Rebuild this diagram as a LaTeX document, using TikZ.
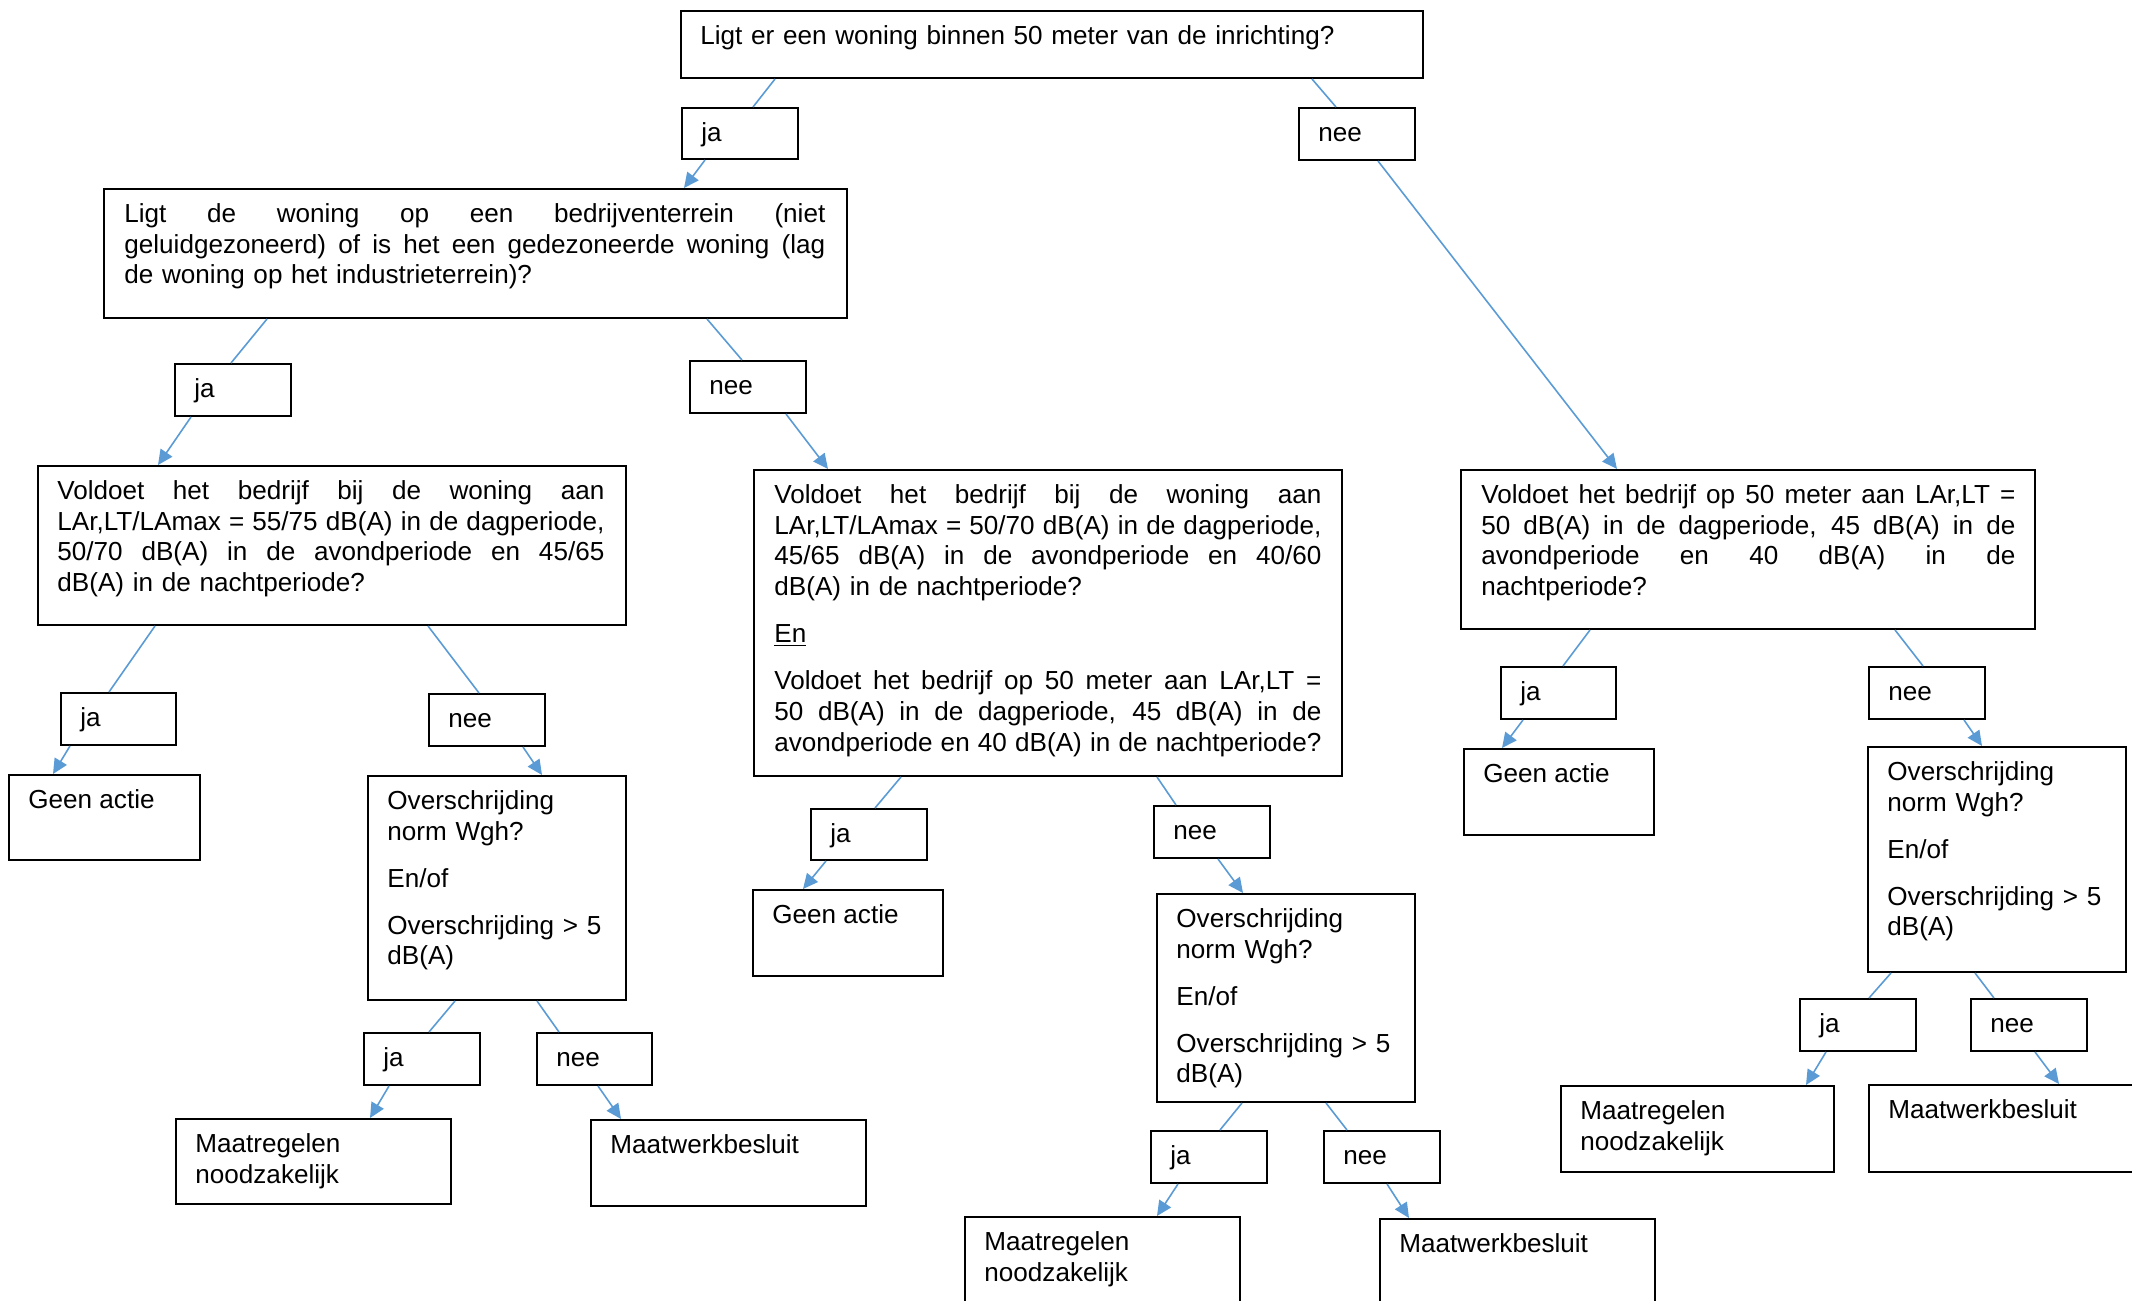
\documentclass[tikz,border=0pt]{standalone}
\usepackage{fontspec}
\setmainfont{Liberation Sans}
\usepackage{tikz}
\usetikzlibrary{calc,arrows.meta}
\setlength{\parindent}{0pt}
\definecolor{cLijn}{HTML}{5B9BD5}
\newcommand{\tekstfont}{\fontsize{13.05}{15.35}\selectfont\hyphenpenalty=10000\relax}
\newcommand{\uitvul}[1]{\hbox to \linewidth{\spaceskip=0.278em plus 1fil minus 0.1em\relax #1}\par}
\newcommand{\alinea}{\par\vspace{8.2pt}}

\begin{document}
\begin{tikzpicture}[x=0.5pt,y=-0.5pt,
  vak/.style={draw=black, line width=1pt, anchor=north west, inner sep=0pt},
  tekst/.style={anchor=north west, inner sep=0pt, font=\tekstfont, execute at begin node=\strut},
  lijn/.style={draw=cLijn, line width=0.8pt},
  pijl/.style={draw=cLijn, line width=0.8pt, -{Triangle[length=7.5pt,width=7pt]}}]
\def\px{0.5pt}
\clip (0,0) rectangle (2132,1301);

% vraag 1
\node[vak, minimum width=742*\px, minimum height=67*\px] (q1) at (680,10) {};
\node[tekst, text width=702*\px] (q1t) at ($(q1.north west)+(20,12.5)$) {Ligt er een woning binnen 50 meter van de inrichting?};
\node[vak, minimum width=116*\px, minimum height=51*\px] (ja1) at (681,107) {};
\node[tekst] (ja1t) at ($(ja1.north west)+(20,12.5)$) {ja};
\node[vak, minimum width=116*\px, minimum height=52*\px] (nee1) at (1298,107) {};
\node[tekst] (nee1t) at ($(nee1.north west)+(20,12.5)$) {nee};

% vraag 2
\node[vak, minimum width=743*\px, minimum height=129*\px] (q2) at (103,188) {};
\node[tekst, text width=701*\px] (q2t) at ($(q2.north west)+(21,12.5)$) {%
\uitvul{Ligt de woning op een bedrijventerrein (niet}
\uitvul{geluidgezoneerd) of is het een gedezoneerde woning (lag}
de woning op het industrieterrein)?};
\node[vak, minimum width=116*\px, minimum height=52*\px] (ja2) at (174,363) {};
\node[tekst] (ja2t) at ($(ja2.north west)+(20,12.5)$) {ja};
\node[vak, minimum width=116*\px, minimum height=52*\px] (nee2) at (689,360) {};
\node[tekst] (nee2t) at ($(nee2.north west)+(20,12.5)$) {nee};

% vraag 3, links
\node[vak, minimum width=588*\px, minimum height=159*\px] (q3L) at (37,465) {};
\node[tekst, text width=547*\px] (q3Lt) at ($(q3L.north west)+(20,12.5)$) {%
\uitvul{Voldoet het bedrijf bij de woning aan}
\uitvul{LAr,LT/LAmax = 55/75 dB(A) in de dagperiode,}
\uitvul{50/70 dB(A) in de avondperiode en 45/65}
dB(A) in de nachtperiode?};

% vraag 3, midden
\node[vak, minimum width=588*\px, minimum height=306*\px] (q3M) at (753,469) {};
\node[tekst, text width=547*\px] (q3Mt) at ($(q3M.north west)+(21,12.5)$) {%
\uitvul{Voldoet het bedrijf bij de woning aan}
\uitvul{LAr,LT/LAmax = 50/70 dB(A) in de dagperiode,}
\uitvul{45/65 dB(A) in de avondperiode en 40/60}
dB(A) in de nachtperiode?\alinea
\underline{En}\alinea
\uitvul{Voldoet het bedrijf op 50 meter aan LAr,LT =}
\uitvul{50 dB(A) in de dagperiode, 45 dB(A) in de}
\uitvul{avondperiode en 40 dB(A) in de nachtperiode?}};

% vraag 3, rechts
\node[vak, minimum width=574*\px, minimum height=159*\px] (q3R) at (1460,469) {};
\node[tekst, text width=534*\px] (q3Rt) at ($(q3R.north west)+(21,12.5)$) {%
\uitvul{Voldoet het bedrijf op 50 meter aan LAr,LT =}
\uitvul{50 dB(A) in de dagperiode, 45 dB(A) in de}
\uitvul{avondperiode en 40 dB(A) in de}
nachtperiode?};

% tak links
\node[vak, minimum width=115*\px, minimum height=52*\px] (jaL) at (60,692) {};
\node[tekst] (jaLt) at ($(jaL.north west)+(20,12.5)$) {ja};
\node[vak, minimum width=116*\px, minimum height=52*\px] (neeL) at (428,693) {};
\node[tekst] (neeLt) at ($(neeL.north west)+(20,12.5)$) {nee};
\node[vak, minimum width=191*\px, minimum height=85*\px] (geenL) at (8,774) {};
\node[tekst] (geenLt) at ($(geenL.north west)+(20,12.5)$) {Geen actie};
\node[vak, minimum width=258*\px, minimum height=224*\px] (overL) at (367,775) {};
\node[tekst, text width=238*\px] (overLt) at ($(overL.north west)+(20,12.5)$) {%
Overschrijding\par norm Wgh?\alinea En/of\alinea Overschrijding > 5\par dB(A)};
\node[vak, minimum width=116*\px, minimum height=52*\px] (jaLL) at (363,1032) {};
\node[tekst] (jaLLt) at ($(jaLL.north west)+(20,12.5)$) {ja};
\node[vak, minimum width=115*\px, minimum height=52*\px] (neeLL) at (536,1032) {};
\node[tekst] (neeLLt) at ($(neeLL.north west)+(20,12.5)$) {nee};
\node[vak, minimum width=275*\px, minimum height=85*\px] (maatrL) at (175,1118) {};
\node[tekst, text width=245*\px] (maatrLt) at ($(maatrL.north west)+(20,12.5)$) {Maatregelen\par noodzakelijk};
\node[vak, minimum width=275*\px, minimum height=86*\px] (maatwL) at (590,1119) {};
\node[tekst] (maatwLt) at ($(maatwL.north west)+(20,12.5)$) {Maatwerkbesluit};

% tak midden
\node[vak, minimum width=116*\px, minimum height=51*\px] (jaM) at (810,808) {};
\node[tekst] (jaMt) at ($(jaM.north west)+(20,12.5)$) {ja};
\node[vak, minimum width=116*\px, minimum height=52*\px] (neeM) at (1153,805) {};
\node[tekst] (neeMt) at ($(neeM.north west)+(20,12.5)$) {nee};
\node[vak, minimum width=190*\px, minimum height=86*\px] (geenM) at (752,889) {};
\node[tekst] (geenMt) at ($(geenM.north west)+(20,12.5)$) {Geen actie};
\node[vak, minimum width=258*\px, minimum height=208*\px] (overM) at (1156,893) {};
\node[tekst, text width=238*\px] (overMt) at ($(overM.north west)+(20,12.5)$) {%
Overschrijding\par norm Wgh?\alinea En/of\alinea Overschrijding > 5\par dB(A)};
\node[vak, minimum width=116*\px, minimum height=52*\px] (jaMM) at (1150,1130) {};
\node[tekst] (jaMMt) at ($(jaMM.north west)+(20,12.5)$) {ja};
\node[vak, minimum width=116*\px, minimum height=52*\px] (neeMM) at (1323,1130) {};
\node[tekst] (neeMMt) at ($(neeMM.north west)+(20,12.5)$) {nee};
\node[vak, minimum width=275*\px, minimum height=100*\px] (maatrM) at (964,1216) {};
\node[tekst, text width=245*\px] (maatrMt) at ($(maatrM.north west)+(20,12.5)$) {Maatregelen\par noodzakelijk};
\node[vak, minimum width=275*\px, minimum height=100*\px] (maatwM) at (1379,1218) {};
\node[tekst] (maatwMt) at ($(maatwM.north west)+(20,12.5)$) {Maatwerkbesluit};

% tak rechts
\node[vak, minimum width=115*\px, minimum height=52*\px] (jaR) at (1500,666) {};
\node[tekst] (jaRt) at ($(jaR.north west)+(20,12.5)$) {ja};
\node[vak, minimum width=116*\px, minimum height=52*\px] (neeR) at (1868,666) {};
\node[tekst] (neeRt) at ($(neeR.north west)+(20,12.5)$) {nee};
\node[vak, minimum width=190*\px, minimum height=86*\px] (geenR) at (1463,748) {};
\node[tekst] (geenRt) at ($(geenR.north west)+(20,12.5)$) {Geen actie};
\node[vak, minimum width=258*\px, minimum height=225*\px] (overR) at (1867,746) {};
\node[tekst, text width=238*\px] (overRt) at ($(overR.north west)+(20,12.5)$) {%
Overschrijding\par norm Wgh?\alinea En/of\alinea Overschrijding > 5\par dB(A)};
\node[vak, minimum width=116*\px, minimum height=52*\px] (jaRR) at (1799,998) {};
\node[tekst] (jaRRt) at ($(jaRR.north west)+(20,12.5)$) {ja};
\node[vak, minimum width=116*\px, minimum height=52*\px] (neeRR) at (1970,998) {};
\node[tekst] (neeRRt) at ($(neeRR.north west)+(20,12.5)$) {nee};
\node[vak, minimum width=273*\px, minimum height=86*\px] (maatrR) at (1560,1085) {};
\node[tekst, text width=243*\px] (maatrRt) at ($(maatrR.north west)+(20,12.5)$) {Maatregelen\par noodzakelijk};
\node[vak, minimum width=290*\px, minimum height=87*\px] (maatwR) at (1868,1084) {};
\node[tekst] (maatwRt) at ($(maatwR.north west)+(20,12.5)$) {Maatwerkbesluit};

% verbindingen
\draw[lijn] ($(q1.south west)+(95,0)$) -- ($(ja1.north west)+(72,0)$);
\draw[pijl] ($(ja1.south west)+(24,0)$) -- ($(q2.north west)+(581,0)$);
\draw[lijn] ($(q1.south west)+(632,0)$) -- ($(nee1.north west)+(38,0)$);
\draw[pijl] ($(nee1.south west)+(80,0)$) -- ($(q3R.north west)+(157,0)$);
\draw[lijn] ($(q2.south west)+(164,0)$) -- ($(ja2.north west)+(57,0)$);
\draw[pijl] ($(ja2.south west)+(17,0)$) -- ($(q3L.north west)+(121,0)$);
\draw[lijn] ($(q2.south west)+(604,0)$) -- ($(nee2.north west)+(53,0)$);
\draw[pijl] ($(nee2.south west)+(97,0)$) -- ($(q3M.north west)+(75,0)$);
\draw[lijn] ($(q3L.south west)+(118,0)$) -- ($(jaL.north west)+(49,0)$);
\draw[pijl] ($(jaL.south west)+(10,0)$) -- ($(geenL.north west)+(45,0)$);
\draw[lijn] ($(q3L.south west)+(391,0)$) -- ($(neeL.north west)+(51,0)$);
\draw[pijl] ($(neeL.south west)+(95,0)$) -- ($(overL.north west)+(175,0)$);
\draw[lijn] ($(overL.south west)+(88,0)$) -- ($(jaLL.north west)+(66,0)$);
\draw[pijl] ($(jaLL.south west)+(26,0)$) -- ($(maatrL.north west)+(195,0)$);
\draw[lijn] ($(overL.south west)+(170,0)$) -- ($(neeLL.north west)+(23,0)$);
\draw[pijl] ($(neeLL.south west)+(62,0)$) -- ($(maatwL.north west)+(31,0)$);
\draw[lijn] ($(q3M.south west)+(148,0)$) -- ($(jaM.north west)+(65,0)$);
\draw[pijl] ($(jaM.south west)+(16,0)$) -- ($(geenM.north west)+(51,0)$);
\draw[lijn] ($(q3M.south west)+(404,0)$) -- ($(neeM.north west)+(23,0)$);
\draw[pijl] ($(neeM.south west)+(65,0)$) -- ($(overM.north west)+(87,0)$);
\draw[lijn] ($(overM.south west)+(86,0)$) -- ($(jaMM.north west)+(70,0)$);
\draw[pijl] ($(jaMM.south west)+(28,0)$) -- ($(maatrM.north west)+(193,0)$);
\draw[lijn] ($(overM.south west)+(170,0)$) -- ($(neeMM.north west)+(24,0)$);
\draw[pijl] ($(neeMM.south west)+(64,0)$) -- ($(maatwM.north west)+(30,0)$);
\draw[lijn] ($(q3R.south west)+(130,0)$) -- ($(jaR.north west)+(63,0)$);
\draw[pijl] ($(jaR.south west)+(23,0)$) -- ($(geenR.north west)+(39,0)$);
\draw[lijn] ($(q3R.south west)+(435,0)$) -- ($(neeR.north west)+(55,0)$);
\draw[pijl] ($(neeR.south west)+(96,0)$) -- ($(overR.north west)+(115,0)$);
\draw[lijn] ($(overR.south west)+(24,0)$) -- ($(jaRR.north west)+(70,0)$);
\draw[pijl] ($(jaRR.south west)+(27,0)$) -- ($(maatrR.north west)+(246,0)$);
\draw[lijn] ($(overR.south west)+(108,0)$) -- ($(neeRR.north west)+(24,0)$);
\draw[pijl] ($(neeRR.south west)+(65,0)$) -- ($(maatwR.north west)+(191,0)$);
\end{tikzpicture}
\end{document}
